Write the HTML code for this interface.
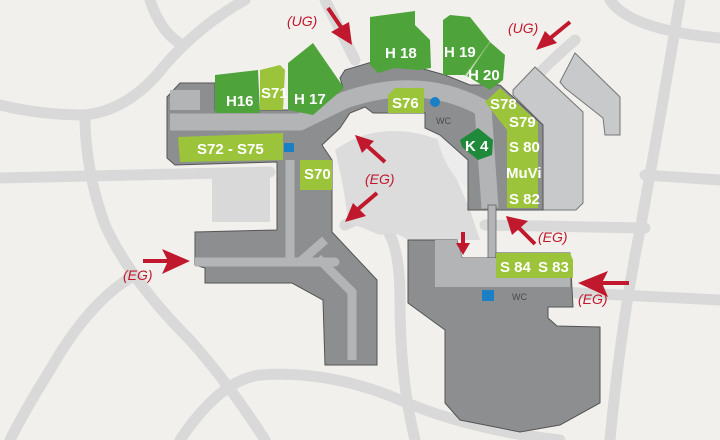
<!DOCTYPE html>
<html><head><meta charset="utf-8"><style>
html,body{margin:0;padding:0;background:#f1f0ed;}
svg{display:block}
text{font-family:"Liberation Sans",sans-serif;}
.w{fill:#fff;font-weight:bold;font-size:15px;}
.r{fill:#c0182c;font-style:italic;font-size:14px;}
.wc{fill:#4a4b4d;font-size:9px;}
</style></head><body>
<svg width="720" height="440" viewBox="0 0 720 440" xmlns="http://www.w3.org/2000/svg">
<rect width="720" height="440" fill="#f1f0ed"/>
<g fill="none" stroke="#d9d9d9" stroke-width="11" stroke-linecap="round">
<path d="M0,105 Q40,115 85,115 Q130,110 165,65 Q200,25 245,0"/>
<path d="M150,0 Q160,30 178,42"/>
<path d="M85,115 Q85,170 105,225 Q130,280 190,340 Q230,385 265,440"/>
<path d="M0,178 L270,172"/>
<path d="M135,275 Q90,300 50,370 Q25,410 10,440"/>
<path d="M180,440 Q220,380 260,375 Q330,370 400,400 Q470,430 560,440"/>
<path d="M325,0 Q345,40 355,60"/>
<path d="M575,40 Q540,70 525,90"/>
<path d="M680,0 Q660,120 640,230 Q620,330 610,440"/>
<path d="M610,0 Q630,30 720,38"/>
<path d="M645,175 L720,180"/>
<path d="M485,225 L645,228"/>
<path d="M560,292 L720,300"/>
<path d="M345,225 Q400,195 400,300 Q400,380 415,440"/>
</g>
<rect x="212" y="170" width="58" height="52" fill="#d9d9da"/>
<path d="M335,150 Q380,118 440,140 L470,210 L480,240 L408,240 Q395,230 380,235 L348,222 Q345,190 335,150Z" fill="#dcdcdc"/>
<path d="M435,130 Q445,175 470,190 L468,160 L440,135Z" fill="#ececec"/>
<!-- light buildings -->
<path d="M513,90 L535,67 L583,112 L583,203 L576,210 L543,210 L543,125 L513,95Z" fill="#c8c9ca" stroke="#777" stroke-width="1"/>
<path d="M560,82 L575,53 L620,97 L620,135 L605,135 L603,118 L565,88Z" fill="#c8c9ca" stroke="#777" stroke-width="1"/>
<!-- main building -->
<path d="M167,97 L180,83 L215,83 L215,110 L288,110 L343,88 L340,78 L345,70 L372,62 L420,68 L445,75 L470,85 L500,85 L543,125 L543,210 L468,210 L468,160 L440,135 L425,128 L425,113 L373,113 L365,107 L350,113 L340,128 L322,145 L332,160 L332,232 L377,280 L377,365 L325,365 L323,300 L292,283 L205,283 L205,268 L195,265 L195,232 L277,230 L277,162 L175,165 L167,158Z" fill="#8c8e90" stroke="#555" stroke-width="1"/>
<g fill="none" stroke="#b3b4b6" stroke-linejoin="round">
<path d="M170,122 L300,122 L345,100 Q420,74 483,108 L490,208" stroke-width="17"/>
<path d="M170,100 L200,100" stroke-width="20"/>
<path d="M290,160 L290,262 M195,262 L335,262 L320,262 M300,262 L325,240 M318,258 L352,292 L352,360" stroke-width="9"/>
</g>
<rect x="488" y="205" width="8" height="55" fill="#b3b4b6" stroke="#666" stroke-width="0.8"/>
<!-- bottom right building -->
<path d="M408,240 L457,240 L462,258 L496,258 L496,253 L570,253 L573,307 L548,307 L548,318 L557,326 L600,327 L600,403 L560,425 L520,432 L460,420 L445,403 L445,330 L408,303Z" fill="#8c8e90" stroke="#555" stroke-width="1"/>
<path d="M435,240 L457,240 L462,258 L570,258 L570,287 L435,287Z" fill="#b3b4b6"/>
<!-- greens -->
<g fill="#4ea43a">
<path d="M215,75 L258,70 L260,113 L215,113Z"/>
<path d="M288,63 L313,43 L344,88 L313,115 L288,110Z"/>
<path d="M370,17 L415,11 L415,25 L430,40 L431,68 L418,70 L395,68 L378,73 L370,65Z"/>
<path d="M443,20 L450,15 L470,17 L490,42 L465,75 L443,75Z"/>
<path d="M467,76 L490,42 L505,55 L503,80 L490,90Z"/>
</g>
<line x1="465" y1="76" x2="490" y2="42" stroke="#8fbf70" stroke-width="1"/>
<g fill="#9bc43a">
<path d="M260,70 L280,65 L285,70 L283,110 L260,110Z"/>
<path d="M178,137 L283,133 L283,160 L180,162Z"/>
<path d="M300,160 L332,160 L332,190 L300,190Z"/>
<path d="M388,95 L395,88 L424,88 L424,113 L388,113Z"/>
<path d="M485,102 L500,88 L538,122 L538,208 L507,208 L507,130Z"/>
<path d="M496,253 L570,253 L573,260 L573,278 L496,278Z"/>
</g>
<path d="M460,140 L478,128 L493,140 L492,155 L478,160 L462,147Z" fill="#1e8a3a"/>
<rect x="284" y="143" width="10" height="9" fill="#1a7fc4"/>
<circle cx="435" cy="102" r="5" fill="#1a7fc4"/>
<rect x="482" y="290" width="12" height="11" fill="#1a7fc4"/>
<text x="436" y="124" class="wc">WC</text>
<text x="512" y="300" class="wc">WC</text>
<text x="226" y="106" class="w">H16</text>
<text x="261" y="98" class="w">S71</text>
<text x="294" y="104" class="w">H 17</text>
<text x="385" y="58" class="w">H 18</text>
<text x="444" y="57" class="w">H 19</text>
<text x="468" y="80" class="w">H 20</text>
<text x="392" y="108" class="w">S76</text>
<text x="197" y="154" class="w">S72 - S75</text>
<text x="304" y="179" class="w">S70</text>
<text x="490" y="109" class="w">S78</text>
<text x="509" y="127" class="w">S79</text>
<text x="509" y="152" class="w">S 80</text>
<text x="506" y="178" class="w">MuVi</text>
<text x="509" y="204" class="w">S 82</text>
<text x="465" y="151" class="w">K 4</text>
<text x="500" y="272" class="w">S 84</text>
<text x="538" y="272" class="w">S 83</text>
<g stroke="#c0182c" stroke-width="4" fill="#c0182c">
<line x1="328" y1="8" x2="345" y2="33"/><path d="M352,45 L331,32 L349,22Z" stroke="none"/>
<line x1="570" y1="22" x2="548" y2="40"/><path d="M536,50 L545,31 L557,43Z" stroke="none"/>
<line x1="385" y1="162" x2="365" y2="144"/><path d="M355,135 L374,141 L362,153Z" stroke="none"/>
<line x1="377" y1="193" x2="357" y2="210"/><path d="M345,222 L353,203 L366,216Z" stroke="none"/>
<line x1="143" y1="261" x2="175" y2="261"/><path d="M190,261 L162,249 L168,261 L162,274Z" stroke="none"/>
<line x1="463" y1="232" x2="463" y2="245"/><path d="M463,255 L456,243 L470,243Z" stroke="none"/>
<line x1="535" y1="244" x2="517" y2="226"/><path d="M506,216 L528,221 L512,235Z" stroke="none"/>
<line x1="629" y1="283" x2="595" y2="283"/><path d="M578,283 L608,271 L602,283 L608,297Z" stroke="none"/>
</g>
<text x="287" y="26" class="r">(UG)</text>
<text x="508" y="33" class="r">(UG)</text>
<text x="365" y="184" class="r">(EG)</text>
<text x="538" y="242" class="r">(EG)</text>
<text x="123" y="280" class="r">(EG)</text>
<text x="578" y="304" class="r">(EG)</text>
</svg>
</body></html>
